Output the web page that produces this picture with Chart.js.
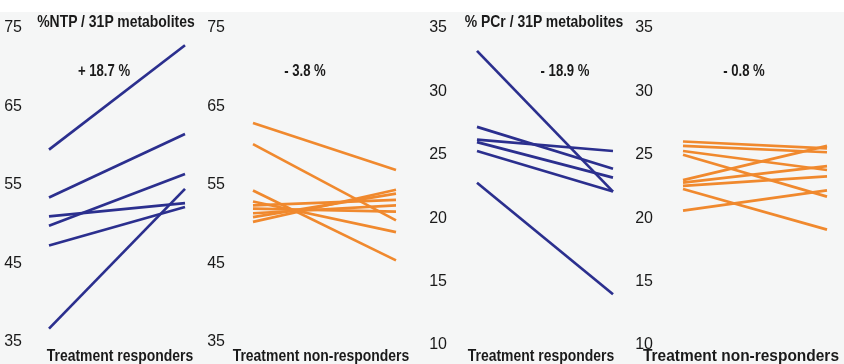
<!doctype html>
<html lang="en">

<head>
  <meta charset="UTF-8">
  <title>31P metabolites</title>
  <style>
    html,
    body {
      margin: 0;
      padding: 0;
      background-color: #fff;
    }

    #wrap {
      position: relative;
      width: 844px;
      height: 364px;
      overflow: hidden;
    }

    #bg {
      position: absolute;
      left: 0;
      top: 12px;
      width: 844px;
      height: 352px;
      background-color: #f5f6f6;
    }

    canvas {
      position: absolute;
      top: 0;
    }

    .txt {
      position: absolute;
      font-family: "Liberation Sans", Arial, sans-serif;
      font-weight: bold;
      color: #1a1a1a;
      white-space: nowrap;
      line-height: 1;
      /* the figure's lettering is horizontally squeezed */
      transform: translate(-50%, -50%) scaleX(0.82);
    }
  </style>
</head>

<body>
  <div id="wrap">
    <div id="bg"></div>
    <canvas id="c1" width="195" height="364" style="left:0px"></canvas>
    <canvas id="c2" width="206" height="364" style="left:200px"></canvas>
    <canvas id="c3" width="203" height="364" style="left:420px"></canvas>
    <canvas id="c4" width="217" height="364" style="left:620px"></canvas>

    <div class="txt" style="left:116px;top:21px;font-size:17px">%NTP / 31P metabolites</div>
    <div class="txt" style="left:104px;top:71px;font-size:16px">+ 18.7 %</div>
    <div class="txt" style="left:305px;top:71px;font-size:16px">- 3.8 %</div>
    <div class="txt" style="left:544px;top:21px;font-size:17px">% PCr / 31P metabolites</div>
    <div class="txt" style="left:565px;top:71px;font-size:16px">- 18.9 %</div>
    <div class="txt" style="left:744px;top:71px;font-size:16px">- 0.8 %</div>

    <div class="txt" style="left:120px;top:355px;font-size:17px">Treatment responders</div>
    <div class="txt" style="left:321px;top:355px;font-size:17px">Treatment non-responders</div>
    <div class="txt" style="left:541px;top:355px;font-size:17px">Treatment responders</div>
    <div class="txt" style="left:741px;top:355px;font-size:17px;transform:translate(-50%,-50%) scaleX(0.91)">Treatment non-responders</div>
  </div>

  <script src="https://cdn.jsdelivr.net/npm/chart.js@4"></script>

  <script>
    // values: before -> after, one pair per patient

    // %NTP, treatment responders
    const ntpRespBefore = [59.5, 53.4, 51.0, 49.8, 47.3, 36.7];
    const ntpRespAfter = [72.8, 61.5, 52.7, 56.4, 52.2, 54.5];

    // %NTP, treatment non-responders
    const ntpNonBefore = [62.9, 60.2, 54.3, 52.9, 52.4, 52.0, 51.4, 50.9, 50.3];
    const ntpNonAfter = [56.9, 50.5, 45.4, 49.0, 53.1, 51.6, 52.4, 53.9, 54.4];

    // %PCr, treatment responders
    const pcrRespBefore = [33.2, 27.2, 26.2, 26.0, 25.3, 22.8];
    const pcrRespAfter = [22.1, 23.9, 25.3, 23.2, 22.1, 14.0];

    // %PCr, treatment non-responders
    const pcrNonBefore = [26.05, 25.7, 25.3, 25.0, 23.0, 22.8, 22.55, 22.3, 20.6];
    const pcrNonAfter = [25.5, 25.2, 23.8, 21.7, 25.7, 24.1, 23.3, 19.1, 22.2];

    const ntpTicks = [35, 45, 55, 65, 75];
    const pcrTicks = [10, 15, 20, 25, 30, 35];

    const blue = '#2b2f8e';
    const orange = '#f0892e';

    document.addEventListener("DOMContentLoaded", function () {
      draw('c1', ntpRespBefore, ntpRespAfter, blue, ntpTicks, { axisW: 49, pad: 27, bottom: 22 });
      draw('c2', ntpNonBefore, ntpNonAfter, orange, ntpTicks, { axisW: 53, pad: 28, bottom: 22 });
      draw('c3', pcrRespBefore, pcrRespAfter, blue, pcrTicks, { axisW: 57, pad: 30, bottom: 19 });
      draw('c4', pcrNonBefore, pcrNonAfter, orange, pcrTicks, { axisW: 63, pad: 30, bottom: 19 });
    });

    function draw(id, before, after, color, ticks, geo) {
      const datasets = before.map(function (b, i) {
        return {
          data: [{ x: 0, y: b }, { x: 1, y: after[i] }],
          borderColor: color,
          borderWidth: 2.7,
          pointRadius: 0,
          fill: false,
          clip: false
        };
      });

      new Chart(id, {
        type: 'line',
        data: { datasets: datasets },
        options: {
          responsive: false,
          animation: false,
          events: [],
          layout: { padding: { top: 28, bottom: geo.bottom, left: 0, right: 10 } },
          plugins: { legend: { display: false }, tooltip: { enabled: false } },
          scales: {
            x: { type: 'linear', min: 0, max: 1, display: false },
            y: {
              min: ticks[0],
              max: ticks[ticks.length - 1],
              border: { display: false },
              grid: { display: false, drawTicks: false },
              afterFit: function (s) {
                s.width = geo.axisW;
                // tick padding is only meant to push labels sideways
                s.paddingTop = 0;
                s.paddingBottom = 0;
              },
              afterBuildTicks: function (s) { s.ticks = ticks.map(v => ({ value: v })); },
              ticks: {
                padding: geo.pad,
                color: '#1a1a1a',
                font: { family: '"Liberation Sans", Arial', size: 16 }
              }
            }
          }
        }
      });
    }
  </script>
</body>

</html>
